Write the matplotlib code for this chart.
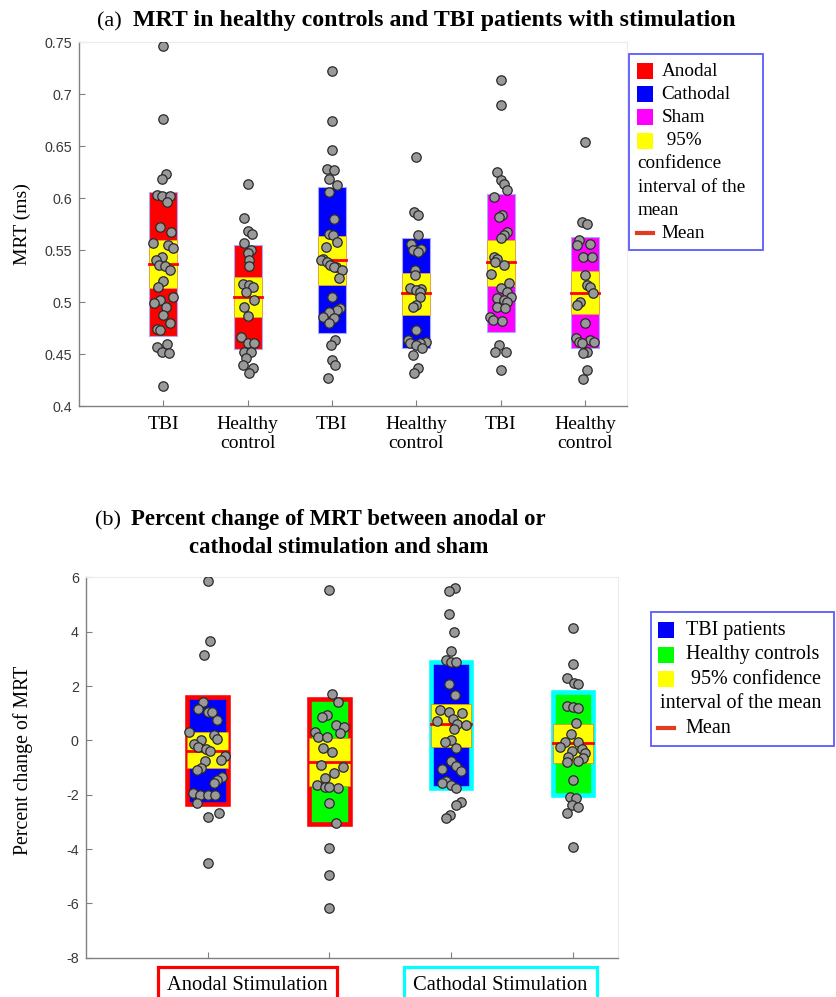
import numpy as np
import matplotlib.pyplot as plt
from matplotlib.patches import Rectangle
from matplotlib.lines import Line2D
import matplotlib.transforms as mtransforms

plt.rcParams['font.family'] = ['Liberation Serif', 'DejaVu Serif']

W, H = 836, 997

# ---------------- panel (a): MRT ----------------
a_pos = [1, 2, 3, 4, 5, 6]
a_ticklabels = ['TBI', 'Healthy\ncontrol', 'TBI', 'Healthy\ncontrol', 'TBI', 'Healthy\ncontrol']
a_colors = ['#ff0000', '#ff0000', '#0000ff', '#0000ff', '#ff00ff', '#ff00ff']
a_mean = [0.5365, 0.5045, 0.541, 0.5084, 0.5382, 0.509]
a_box_lo = [0.4673, 0.4545, 0.4699, 0.4555, 0.4714, 0.4555]
a_box_hi = [0.606, 0.5548, 0.6109, 0.5613, 0.6045, 0.5628]
a_ci_lo = [0.5132, 0.4853, 0.5163, 0.4875, 0.5154, 0.4882]
a_ci_hi = [0.5603, 0.5238, 0.5638, 0.5282, 0.5603, 0.5298]
a_points = [
    [0.7465, 0.6766, 0.623, 0.619, 0.6035, 0.602, 0.602, 0.596, 0.572, 0.568, 0.557, 0.5555, 0.552,
     0.543, 0.5404, 0.5356, 0.535, 0.531, 0.520, 0.5147, 0.505, 0.502, 0.499, 0.4955, 0.4875, 0.4795,
     0.474, 0.473, 0.460, 0.457, 0.452, 0.4506, 0.419],
    [0.6135, 0.5814, 0.5683, 0.5654, 0.557, 0.55, 0.5474, 0.541, 0.5346, 0.5173, 0.5163, 0.5147, 0.5093,
     0.502, 0.4955, 0.4868, 0.4666, 0.4609, 0.4603, 0.4522, 0.4522, 0.4459, 0.4394, 0.4362, 0.4314],
    [0.7224, 0.674, 0.6468, 0.6286, 0.627, 0.6189, 0.6125, 0.606, 0.5805, 0.566, 0.5644, 0.558, 0.5532,
     0.542, 0.5404, 0.5388, 0.5356, 0.534, 0.5334, 0.5308, 0.5228, 0.5051, 0.494, 0.4923, 0.4907, 0.4859,
     0.4843, 0.4795, 0.4635, 0.4587, 0.4442, 0.4394, 0.4266],
    [0.6397, 0.5868, 0.5837, 0.5644, 0.5564, 0.5516, 0.55, 0.5484, 0.5314, 0.526, 0.5132, 0.5122, 0.5115,
     0.51, 0.5051, 0.4971, 0.4955, 0.4731, 0.4635, 0.4618, 0.4603, 0.4603, 0.4587, 0.4555, 0.449, 0.4362,
     0.4314],
    [0.7135, 0.6894, 0.6253, 0.618, 0.6141, 0.6084, 0.6013, 0.5837, 0.582, 0.5676, 0.5644, 0.5613, 0.5436,
     0.542, 0.5388, 0.5356, 0.5269, 0.518, 0.5132, 0.51, 0.5051, 0.5036, 0.502, 0.5003, 0.4955, 0.494,
     0.4859, 0.4827, 0.482, 0.4587, 0.4522, 0.4522, 0.4346],
    [0.6538, 0.5772, 0.5757, 0.5596, 0.5564, 0.5548, 0.5436, 0.5436, 0.526, 0.5163, 0.5147, 0.5084, 0.5003,
     0.4971, 0.4795, 0.4651, 0.4635, 0.4618, 0.4618, 0.4603, 0.4522, 0.4507, 0.4346, 0.4256],
]
a_jitter = [
    [0, 0, .03, -.02, -.08, -.01, .08, .04, -.04, .09, -.12, .06, .12, -.01, -.09, -.05, .02, .08, 0, -.06,
     .11, -.04, -.11, .03, 0, .08, -.08, -.04, .04, -.07, -.01, .07, 0],
    [0, -.04, 0, .05, -.04, .04, 0, .02, .02, -.06, .02, .06, -.02, .08, -.04, 0, -.08, 0, .08, -.04, .04,
     -.02, -.06, .06, .02],
    [0, 0, 0, -.06, .02, -.03, .06, -.03, .02, -.03, .01, .06, -.07, -.11, -.13, -.06, -.02, .05, .02, .12,
     .08, 0, .09, .06, -.04, -.10, .02, -.04, .04, -.01, 0, .04, -.05],
    [0, -.03, .02, .02, -.06, .06, -.04, .02, -.02, -.02, -.07, .06, 0, .04, .04, 0, -.04, 0, -.10, .11,
     -.07, .05, 0, .07, -.04, .02, -.03],
    [0, 0, -.04, 0, .04, .08, -.08, .02, -.02, .08, .04, 0, -.08, -.04, -.06, .04, -.11, .10, 0, .08, .12,
     -.04, .04, .08, -.04, .05, -.12, -.09, .02, -.02, -.07, .06, 0],
    [0, -.03, .03, -.07, .06, -.09, -.02, .09, 0, .03, .06, .10, -.06, -.09, 0, -.11, .06, -.07, .11, -.03,
     .03, -.02, .03, -.02],
]
a_yticks = [0.4, 0.45, 0.5, 0.55, 0.6, 0.65, 0.7, 0.75]
a_yticklabels = ['0.4', '0.45', '0.5', '0.55', '0.6', '0.65', '0.7', '0.75']
a_legend_labels = ['Anodal', 'Cathodal', 'Sham', ' 95%', 'confidence', 'interval of the', 'mean', 'Mean']
a_legend_kinds = ['patch', 'patch', 'patch', 'patch', None, None, None, 'line']
a_legend_colors = ['#ff0000', '#0000ff', '#ff00ff', '#ffff00', None, None, None, '#e03c1e']

# ---------------- panel (b): percent change ----------------
b_pos = [1, 2, 3, 4]
b_face = ['#0000ff', '#00ff00', '#0000ff', '#00ff00']
b_edge = ['#ff0000', '#ff0000', '#00ffff', '#00ffff']
b_mean = [-0.38, -0.78, 0.59, -0.11]
b_box_lo = [-2.35, -3.09, -1.76, -2.01]
b_box_hi = [1.60, 1.52, 2.90, 1.77]
b_ci_lo = [-1.03, -1.68, -0.23, -0.84]
b_ci_hi = [0.30, 0.10, 1.34, 0.60]
b_points = [
    [5.87, 3.67, 3.14, 1.43, 1.16, 1.06, 1.06, 0.75, 0.30, 0.20, 0.04, 0.02, -0.13, -0.23, -0.31, -0.38,
     -0.57, -0.72, -0.75, -1.03, -1.09, -1.36, -1.46, -1.58, -1.92, -2.01, -2.01, -2.01, -2.31, -2.68,
     -2.81, -4.50],
    [5.54, 1.71, 1.43, 0.94, 0.87, 0.57, 0.51, 0.32, 0.28, 0.14, 0.12, -0.29, -0.42, -0.90, -0.97, -1.21,
     -1.39, -1.64, -1.73, -1.76, -1.73, -2.31, -3.05, -3.97, -4.95, -6.18],
    [5.62, 5.51, 4.65, 3.98, 3.30, 2.96, 2.90, 2.87, 2.08, 1.66, 1.12, 1.06, 1.02, 0.79, 0.71, 0.60, 0.57,
     0.41, 0.02, -0.05, -0.29, -0.75, -0.94, -1.06, -1.13, -1.48, -1.56, -1.64, -1.76, -2.26, -2.38,
     -2.75, -2.87],
    [4.13, 2.81, 2.29, 2.10, 2.08, 1.28, 1.24, 1.18, 0.63, 0.24, -0.05, -0.07, -0.23, -0.33, -0.38, -0.47,
     -0.60, -0.66, -0.75, -0.78, -1.46, -2.07, -2.13, -2.38, -2.44, -2.66, -3.91],
]
b_jitter = [
    [0, .02, -.03, -.04, -.08, 0, .04, .08, -.15, .05, .08, -.05, -.11, -.08, -.01, .02, .14, .11, -.02,
     -.05, -.09, .12, .08, .05, -.12, -.06, 0, .06, -.09, .09, 0, 0],
    [0, .02, .07, -.02, -.06, .05, .12, -.12, .09, -.09, -.02, -.05, .02, -.07, .11, .04, -.04, -.10, -.04,
     .07, 0, 0, .05, 0, 0, 0],
    [.03, -.02, -.02, .02, 0, -.04, 0, .04, -.02, .03, -.09, -.02, .09, .01, -.12, .05, .12, .02, 0, -.05,
     .04, 0, .04, -.08, .08, -.04, -.08, 0, .04, .08, .04, -.01, -.04],
    [0, 0, -.05, .01, .04, -.05, 0, .04, .02, -.02, -.07, .04, -.11, .07, -.01, .10, -.04, .08, .04, -.05,
     0, -.03, .02, -.01, .04, -.05, 0],
]
b_yticks = [-8, -6, -4, -2, 0, 2, 4, 6]
b_yticklabels = ['-8', '-6', '-4', '-2', '0', '2', '4', '6']
b_group_labels = ['Anodal Stimulation', 'Cathodal Stimulation']
b_group_label_x = [1.33, 3.40]
b_group_label_colors = ['#ff0000', '#00ffff']
b_legend_labels = ['TBI patients', 'Healthy controls', ' 95% confidence', 'interval of the mean', 'Mean']
b_legend_kinds = ['patch', 'patch', 'patch', None, 'line']
b_legend_colors = ['#0000ff', '#00ff00', '#ffff00', None, '#e03c1e']


def fx(x):
    return x / W


def fy(y):
    return 1 - y / H


def style_axes(ax):
    for s in ['left', 'bottom']:
        ax.spines[s].set_color('#808080')
        ax.spines[s].set_linewidth(1.0)
    for s in ['top', 'right']:
        ax.spines[s].set_color('#ececec')
        ax.spines[s].set_linewidth(0.8)
    ax.tick_params(direction='in', length=4, width=0.8, color='#808080', top=False, right=False)
    ax.tick_params(axis='y', labelsize=10.3, labelcolor='#383838', pad=5)
    for lab in ax.get_yticklabels():
        lab.set_fontfamily('Liberation Sans')


def draw_legend(fig, labels, kinds, colors, box, sq_x, text_x, plain_x, y0, dy, fs):
    x0, y0b, x1, y1b = box
    fig.patches.append(Rectangle((fx(x0), fy(y1b)), (x1 - x0) / W, (y1b - y0b) / H,
                                 transform=fig.transFigure, fill=False, edgecolor='#5a5aff', lw=1.3))
    sq = 16
    for i, (lab, kind, col) in enumerate(zip(labels, kinds, colors)):
        yc = y0 + i * dy
        if kind == 'patch':
            fig.patches.append(Rectangle((fx(sq_x), fy(yc + sq / 2)), sq / W, sq / H,
                                         transform=fig.transFigure, facecolor=col, edgecolor='none'))
            tx = text_x
        elif kind == 'line':
            fig.lines.append(Line2D([fx(sq_x), fx(sq_x + sq)], [fy(yc), fy(yc)],
                                    transform=fig.transFigure, color=col, lw=3))
            tx = text_x
        else:
            tx = plain_x
        fig.text(fx(tx), fy(yc), lab, ha='left', va='center', fontsize=fs)


fig = plt.figure(figsize=(W / 100, H / 100), dpi=100)

# ---------- panel (a) ----------
ax1 = fig.add_axes([fx(79), fy(406), (627 - 79) / W, (406 - 42.5) / H])
bw = 0.333
for i, p in enumerate(a_pos):
    ax1.add_patch(Rectangle((p - bw / 2, a_box_lo[i]), bw, a_box_hi[i] - a_box_lo[i],
                            facecolor=a_colors[i], edgecolor='#a8a8ff', lw=0.8, zorder=2))
    ax1.add_patch(Rectangle((p - bw / 2, a_ci_lo[i]), bw, a_ci_hi[i] - a_ci_lo[i],
                            facecolor='#ffff00', edgecolor='#e0a040', lw=0.6, zorder=3))
    ax1.plot([p - bw / 2, p + bw / 2], [a_mean[i], a_mean[i]], color='#ff0000', lw=2, zorder=4)
    ax1.scatter(p + np.array(a_jitter[i]), a_points[i], s=46, facecolor='#999999',
                edgecolor='#2a2a2a', linewidth=0.9, zorder=5)
ax1.set_xlim(0, 6.5)
ax1.set_ylim(0.4, 0.75)
ax1.set_xticks(a_pos)
ax1.set_xticklabels(a_ticklabels, fontsize=14, linespacing=1.2)
ax1.set_yticks(a_yticks)
ax1.set_yticklabels(a_yticklabels)
style_axes(ax1)
ax1.tick_params(axis='x', pad=7, labelcolor='black')

fig.text(fx(97), fy(26), '(a)', fontsize=16, va='baseline', ha='left')
fig.text(fx(133), fy(26), 'MRT in healthy controls and TBI patients with stimulation',
         fontsize=17.2, fontweight='bold', va='baseline', ha='left')
fig.text(fx(22), fy(224), 'MRT (ms)', rotation=90, fontsize=14, ha='center', va='center')

draw_legend(fig, a_legend_labels, a_legend_kinds, a_legend_colors,
            box=(629, 54, 763, 250), sq_x=637, text_x=661.5, plain_x=637.5,
            y0=71, dy=23.2, fs=13.8)

# ---------- panel (b) ----------
ax2 = fig.add_axes([fx(85.7), fy(957.7), (618.3 - 85.7) / W, (957.7 - 577.4) / H])
bw2 = 0.33
for i, p in enumerate(b_pos):
    ax2.add_patch(Rectangle((p - bw2 / 2, b_box_lo[i]), bw2, b_box_hi[i] - b_box_lo[i],
                            facecolor=b_face[i], edgecolor=b_edge[i], lw=3.3, zorder=2))
    ax2.add_patch(Rectangle((p - bw2 / 2, b_ci_lo[i]), bw2, b_ci_hi[i] - b_ci_lo[i],
                            facecolor='#ffff00', edgecolor='#d89030', lw=0.6, zorder=3))
    ax2.plot([p - bw2 / 2, p + bw2 / 2], [b_mean[i], b_mean[i]], color='#ff0000', lw=2, zorder=4)
    ax2.scatter(p + np.array(b_jitter[i]), b_points[i], s=46, facecolor='#999999',
                edgecolor='#2a2a2a', linewidth=0.9, zorder=5)
ax2.set_xlim(0, 4.37)
ax2.set_ylim(-8, 6)
ax2.set_xticks(b_pos)
ax2.set_xticklabels([''] * len(b_pos))
ax2.set_yticks(b_yticks)
ax2.set_yticklabels(b_yticklabels)
style_axes(ax2)

trans = mtransforms.blended_transform_factory(ax2.transData, ax2.transAxes)
for lab, x, col in zip(b_group_labels, b_group_label_x, b_group_label_colors):
    ax2.text(x, -0.048, lab, transform=trans, ha='center', va='top', fontsize=14.8,
             bbox=dict(boxstyle='square,pad=0.45', facecolor='white', edgecolor=col, lw=2.3),
             clip_on=False)

fig.text(fx(95), fy(525.5), '(b)', fontsize=16, va='baseline', ha='left')
fig.text(fx(338.5), fy(525.5), 'Percent change of MRT between anodal or',
         fontsize=16.4, fontweight='bold', va='baseline', ha='center')
fig.text(fx(338.5), fy(553), 'cathodal stimulation and sham',
         fontsize=16.4, fontweight='bold', va='baseline', ha='center')
fig.text(fx(23), fy(760), 'Percent change of MRT', rotation=90, fontsize=14.3, ha='center', va='center')

draw_legend(fig, b_legend_labels, b_legend_kinds, b_legend_colors,
            box=(651, 612, 834, 746), sq_x=658, text_x=685.5, plain_x=660.5,
            y0=630, dy=24.6, fs=14.5)

fig.savefig('out.png', dpi=100)
